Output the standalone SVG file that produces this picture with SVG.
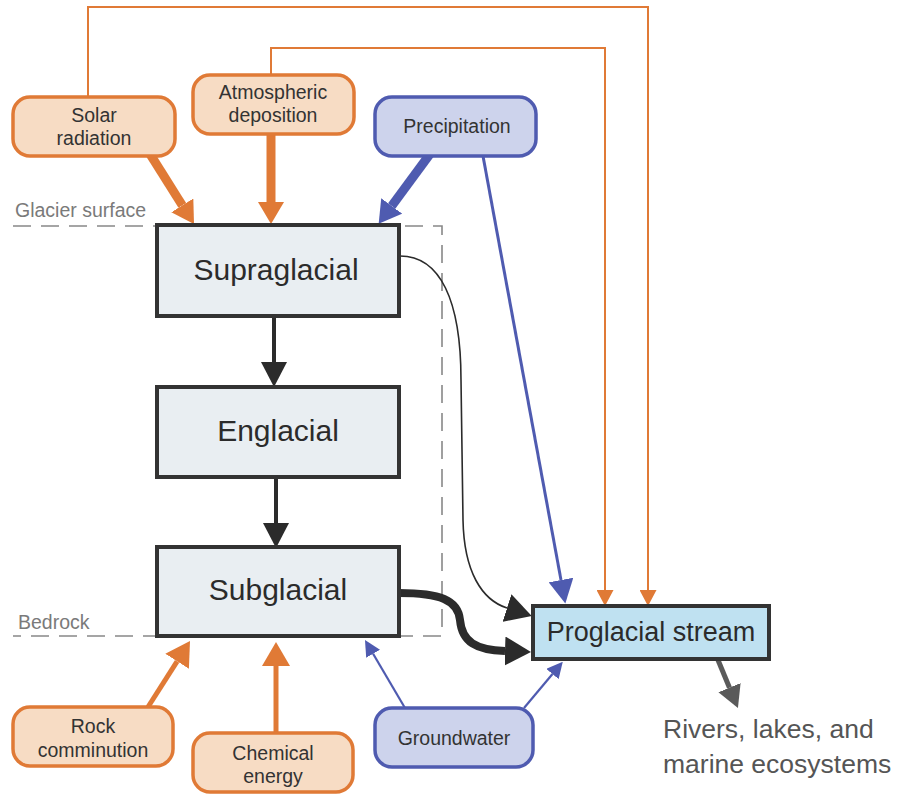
<svg xmlns="http://www.w3.org/2000/svg" width="910" height="794" viewBox="0 0 910 794">
<style>
text{font-family:"Liberation Sans",Arial,sans-serif;}
.src-o{fill:#f7dcc4;stroke:#e07a36;stroke-width:3.5;}
.src-b{fill:#cdd3ec;stroke:#4f5bb0;stroke-width:3.5;}
.zone{fill:#e9eef2;stroke:#333;stroke-width:4;}
.pro{fill:#bfe1f1;stroke:#333;stroke-width:4;}
.st{font-size:19.5px;fill:#333;text-anchor:middle;}
.bt{font-size:30px;fill:#2b2b2b;text-anchor:middle;}
.lbl{font-size:19.5px;fill:#7a7a7a;}
.dash{fill:none;stroke:#888;stroke-width:1.6;stroke-dasharray:18 10;}
.or{fill:none;stroke:#e07a36;}
.bl{fill:none;stroke:#4f5bb0;}
.bk{fill:none;stroke:#2b2b2b;}
</style>
<defs>
<marker id="hOL" markerUnits="userSpaceOnUse" viewBox="0 0 22 26" markerWidth="22" markerHeight="26" refX="0" refY="13" orient="auto"><path d="M0,0L22,13L0,26z" fill="#e07a36"/></marker>
<marker id="hOM" markerUnits="userSpaceOnUse" viewBox="0 0 24 28" markerWidth="24" markerHeight="28" refX="0" refY="14" orient="auto"><path d="M0,0L24,14L0,28z" fill="#e07a36"/></marker>
<marker id="hOS" markerUnits="userSpaceOnUse" viewBox="0 0 16 17" markerWidth="16" markerHeight="17" refX="0" refY="8.5" orient="auto"><path d="M0,0L16,8.5L0,17z" fill="#e07a36"/></marker>
<marker id="hBL" markerUnits="userSpaceOnUse" viewBox="0 0 22 26" markerWidth="22" markerHeight="26" refX="0" refY="13" orient="auto"><path d="M0,0L22,13L0,26z" fill="#4f5bb0"/></marker>
<marker id="hBM" markerUnits="userSpaceOnUse" viewBox="0 0 24 25" markerWidth="24" markerHeight="25" refX="0" refY="12.5" orient="auto"><path d="M0,0L24,12.5L0,25z" fill="#4f5bb0"/></marker>
<marker id="hBS" markerUnits="userSpaceOnUse" viewBox="0 0 16 16" markerWidth="16" markerHeight="16" refX="0" refY="8" orient="auto"><path d="M0,0L16,8L0,16z" fill="#4f5bb0"/></marker>
<marker id="hK" markerUnits="userSpaceOnUse" viewBox="0 0 25 26" markerWidth="25" markerHeight="26" refX="0" refY="13" orient="auto"><path d="M0,0L25,13L0,26z" fill="#2b2b2b"/></marker>
<marker id="hKC" markerUnits="userSpaceOnUse" viewBox="0 0 26 29" markerWidth="26" markerHeight="29" refX="0" refY="14.5" orient="auto"><path d="M0,0L26,14.5L0,29z" fill="#2b2b2b"/></marker>
<marker id="hG" markerUnits="userSpaceOnUse" viewBox="0 0 22 24" markerWidth="22" markerHeight="24" refX="0" refY="12" orient="auto"><path d="M0,0L22,12L0,24z" fill="#5a5a5a"/></marker>
</defs>
<rect width="910" height="794" fill="#fff"/>

<g id="boundaries">
<path class="dash" d="M13,226H442V636H13"/>
<text class="lbl" x="15" y="217">Glacier surface</text>
<text class="lbl" x="18" y="629">Bedrock</text>
</g>

<g id="connectors">
<path class="or" stroke-width="2" d="M88,97V7H648V590" marker-end="url(#hOS)"/>
<path class="or" stroke-width="2" d="M271,75V48H605V590" marker-end="url(#hOS)"/>
<line class="or" stroke-width="9" x1="150" y1="154" x2="182.3" y2="205.4" marker-end="url(#hOL)"/>
<line class="or" stroke-width="9" x1="271" y1="134" x2="271" y2="202" marker-end="url(#hOL)"/>
<line class="bl" stroke-width="9" x1="430" y1="154" x2="391.7" y2="206" marker-end="url(#hBL)"/>
<line class="bl" stroke-width="3" x1="483" y1="156" x2="561" y2="580" marker-end="url(#hBM)"/>
<line class="bk" stroke-width="4" x1="274" y1="316" x2="274" y2="362" marker-end="url(#hK)"/>
<line class="bk" stroke-width="4" x1="276" y1="477" x2="276" y2="523" marker-end="url(#hK)"/>
<path class="bk" stroke-width="1.6" d="M400,256C440,256 461,300 461,380L463,520C464,572 482,600 507,608" marker-end="url(#hKC)"/>
<path class="bk" stroke-width="8" d="M399,593C440,593 458,600 460,620C462,642 476,650 505,651" marker-end="url(#hKC)"/>
<line class="or" stroke-width="5" x1="148" y1="707" x2="177.1" y2="661.3" marker-end="url(#hOM)"/>
<line class="or" stroke-width="5" x1="276" y1="734" x2="276" y2="666" marker-end="url(#hOM)"/>
<line class="bl" stroke-width="2.2" x1="405" y1="708" x2="373.1" y2="653.8" marker-end="url(#hBS)"/>
<line class="bl" stroke-width="2.2" x1="524" y1="708" x2="552.5" y2="674" marker-end="url(#hBS)"/>
<line stroke="#5a5a5a" stroke-width="5" x1="718" y1="660" x2="729.5" y2="687.7" marker-end="url(#hG)"/>
</g>

<g id="solar-radiation">
<rect class="src-o" x="13" y="97" width="162" height="59" rx="17"/>
<text class="st" x="94" y="122">Solar</text>
<text class="st" x="94" y="145">radiation</text>
</g>
<g id="atmospheric-deposition">
<rect class="src-o" x="193" y="75" width="161" height="59" rx="17"/>
<text class="st" x="273" y="99">Atmospheric</text>
<text class="st" x="273" y="122">deposition</text>
</g>
<g id="precipitation">
<rect class="src-b" x="375" y="97" width="161" height="59" rx="17"/>
<text class="st" x="457" y="133">Precipitation</text>
</g>
<g id="supraglacial">
<rect class="zone" x="157" y="225" width="242" height="91"/>
<text class="bt" x="276" y="280">Supraglacial</text>
</g>
<g id="englacial">
<rect class="zone" x="157" y="387" width="242" height="90"/>
<text class="bt" x="278" y="441">Englacial</text>
</g>
<g id="subglacial">
<rect class="zone" x="157" y="547" width="242" height="89"/>
<text class="bt" x="278" y="600">Subglacial</text>
</g>
<g id="proglacial-stream">
<rect class="pro" x="533" y="606" width="236" height="53"/>
<text x="651" y="641" font-size="27" fill="#2b2b2b" text-anchor="middle">Proglacial stream</text>
</g>
<g id="rock-comminution">
<rect class="src-o" x="13" y="707" width="160" height="59" rx="17"/>
<text class="st" x="93" y="733">Rock</text>
<text class="st" x="93" y="757">comminution</text>
</g>
<g id="chemical-energy">
<rect class="src-o" x="193" y="733" width="160" height="59" rx="17"/>
<text class="st" x="273" y="760">Chemical</text>
<text class="st" x="273" y="783">energy</text>
</g>
<g id="groundwater">
<rect class="src-b" x="375" y="708" width="158" height="59" rx="17"/>
<text class="st" x="454" y="745">Groundwater</text>
</g>
<g id="ecosystems">
<text x="663" y="738" font-size="26.5" fill="#555">Rivers, lakes, and</text>
<text x="663" y="773" font-size="26.5" fill="#555">marine ecosystems</text>
</g>
</svg>
